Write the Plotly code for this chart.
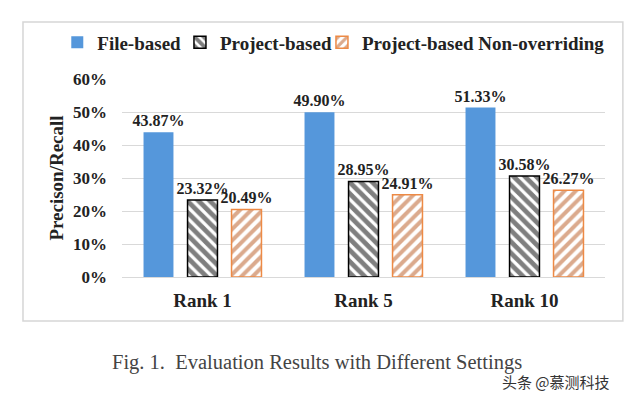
import plotly.graph_objects as go

categories = ["Rank 1", "Rank 5", "Rank 10"]
file_based = [43.87, 49.90, 51.33]
project_based = [23.32, 28.95, 30.58]
project_non_overriding = [20.49, 24.91, 26.27]
series_names = ["File-based", "Project-based", "Project-based Non-overriding"]
y_ticks = [0, 10, 20, 30, 40, 50, 60]

SERIF = "Liberation Serif"

fig = go.Figure()
fig.add_trace(go.Bar(
    x=categories, y=file_based, name=series_names[0], legend="legend",
    marker=dict(color="#5597db", line=dict(width=0)),
    text=[f"{v:.2f}%" for v in file_based], textposition="outside",
))
fig.add_trace(go.Bar(
    x=categories, y=project_based, name=series_names[1], legend="legend2",
    marker=dict(color="white", line=dict(color="black", width=1.5),
                pattern=dict(shape="\\", fgcolor="black", bgcolor="white",
                             size=8, solidity=0.6)),
    text=[f"{v:.2f}%" for v in project_based], textposition="outside",
))
fig.add_trace(go.Bar(
    x=categories, y=project_non_overriding, name=series_names[2], legend="legend3",
    marker=dict(color="white", line=dict(color="#ed8a45", width=1.5),
                pattern=dict(shape="/", fgcolor="#b8561c", bgcolor="white",
                             size=8, solidity=0.5)),
    text=[f"{v:.2f}%" for v in project_non_overriding], textposition="outside",
))

fig.update_traces(
    textfont=dict(family=SERIF, size=16, color="#222", weight="bold"),
    cliponaxis=False, constraintext="none",
)

legend_style = dict(
    orientation="h", xanchor="left", y=1.185, yanchor="middle",
    font=dict(family=SERIF, size=19, color="#222", weight="bold"),
    itemwidth=30, bgcolor="rgba(0,0,0,0)",
)

# page body adds an 8px margin, so the figure is sized 16px smaller
fig.update_layout(
    width=624, height=383,
    margin=dict(l=114, r=27, t=71, b=114, autoexpand=False),
    paper_bgcolor="white", plot_bgcolor="white",
    barmode="group", bargap=0.18, bargroupgap=0.32,
    font=dict(family=SERIF, color="#222"),
    showlegend=True,
    legend=dict(legend_style, x=-0.134),
    legend2=dict(legend_style, x=0.120),
    legend3=dict(legend_style, x=0.414),
    xaxis=dict(
        showgrid=False, showline=False, zeroline=False,
        tickfont=dict(family=SERIF, size=19, color="#222", weight="bold"),
        ticklabelstandoff=10,
    ),
    yaxis=dict(
        range=[0, 60], tickvals=y_ticks, ticktext=[f"{t}%" for t in y_ticks],
        showgrid=True, gridcolor="#d9d9d9", gridwidth=1.2,
        zeroline=True, zerolinecolor="#d9d9d9", zerolinewidth=1.2,
        showline=False,
        tickfont=dict(family=SERIF, size=17, color="#222", weight="bold"),
        ticklabelstandoff=14,
        title=dict(text="Precison/Recall",
                   font=dict(family=SERIF, size=19, color="#222", weight="bold"),
                   standoff=4),
    ),
    shapes=[dict(type="rect", xref="paper", yref="paper",
                 x0=-0.205, x1=1.037, y0=-0.222, y1=1.288,
                 line=dict(color="#d6d6d6", width=1.5), fillcolor="rgba(0,0,0,0)",
                 layer="below")],
    annotations=[
        dict(text="Fig. 1.  Evaluation Results with Different Settings",
             xref="paper", yref="paper", x=0.404, y=-0.434,
             xanchor="center", yanchor="middle", showarrow=False,
             font=dict(family=SERIF, size=20.5, color="#444")),
        dict(text="头条 @慕测科技",
             xref="paper", yref="paper", x=0.899, y=-0.530,
             xanchor="center", yanchor="middle", showarrow=False,
             font=dict(family="Noto Sans CJK SC", size=15, color="#333")),
    ],
)

fig.write_html("out.html")
